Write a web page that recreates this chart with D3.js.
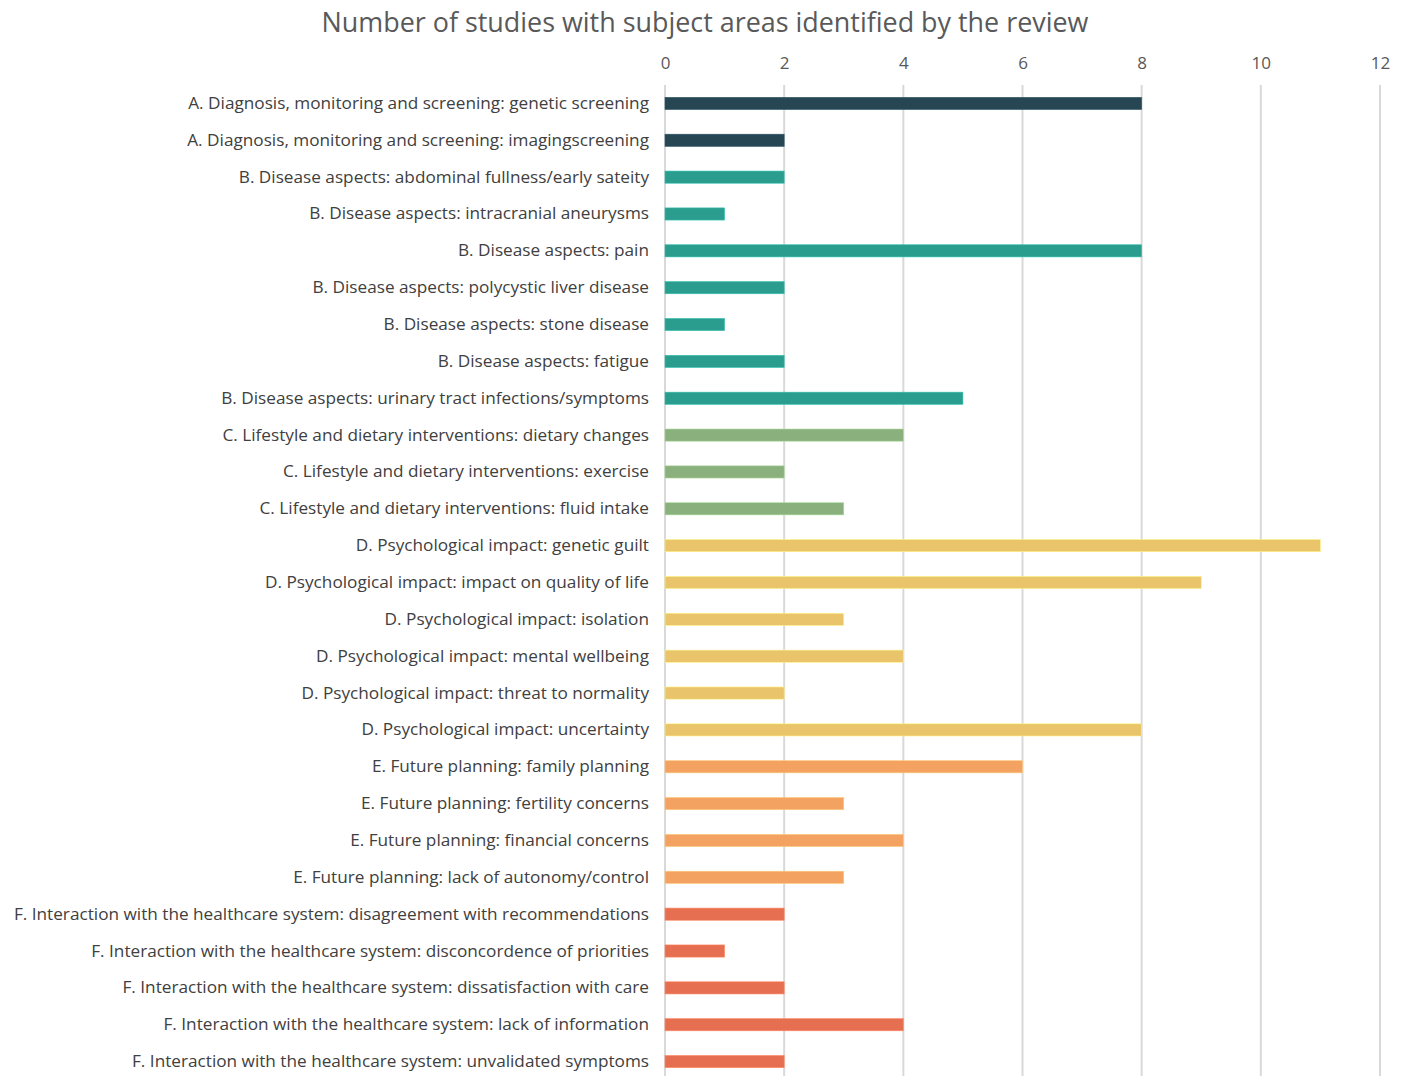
<!DOCTYPE html>
<html lang="en">
<head>
<meta charset="utf-8">
<title>Number of studies with subject areas</title>
<script src="https://d3js.org/d3.v7.min.js"></script>
<style>
  body { margin: 0; background: #fff; font-family: "Open Sans", sans-serif; }
</style>
</head>
<body>
<div id="chart"></div>
<script>
const categories = [
  "A. Diagnosis, monitoring and screening: genetic screening",
  "A. Diagnosis, monitoring and screening: imagingscreening",
  "B. Disease aspects: abdominal fullness/early sateity",
  "B. Disease aspects: intracranial aneurysms",
  "B. Disease aspects: pain",
  "B. Disease aspects: polycystic liver disease",
  "B. Disease aspects: stone disease",
  "B. Disease aspects: fatigue",
  "B. Disease aspects: urinary tract infections/symptoms",
  "C. Lifestyle and dietary interventions: dietary changes",
  "C. Lifestyle and dietary interventions: exercise",
  "C. Lifestyle and dietary interventions: fluid intake",
  "D. Psychological impact: genetic guilt",
  "D. Psychological impact: impact on quality of life",
  "D. Psychological impact: isolation",
  "D. Psychological impact: mental wellbeing",
  "D. Psychological impact: threat to normality",
  "D. Psychological impact: uncertainty",
  "E. Future planning: family planning",
  "E. Future planning: fertility concerns",
  "E. Future planning: financial concerns",
  "E. Future planning: lack of autonomy/control",
  "F. Interaction with the healthcare system: disagreement with recommendations",
  "F. Interaction with the healthcare system: disconcordence of priorities",
  "F. Interaction with the healthcare system: dissatisfaction with care",
  "F. Interaction with the healthcare system: lack of information",
  "F. Interaction with the healthcare system: unvalidated symptoms"
];
const values = [8, 2, 2, 1, 8, 2, 1, 2, 5, 4, 2, 3, 11, 9, 3, 4, 2, 8, 6, 3, 4, 3, 2, 1, 2, 4, 2];
const groups = ["A", "B", "C", "D", "E", "F"];
const groupColors = ["#264653", "#2a9d8f", "#8ab17d", "#e9c46a", "#f4a261", "#e76f51"];
const xTicks = [0, 2, 4, 6, 8, 10, 12];
const title = "Number of studies with subject areas identified by the review";

const width = 1406, height = 1076;
const margin = {top: 85, right: 26, bottom: -4, left: 665};

const data = categories.map((c, i) => ({name: c, value: values[i], group: c[0]}));

const svg = d3.select("#chart").append("svg")
  .attr("width", width)
  .attr("height", height);

const x = d3.scaleLinear().domain([0, 12]).range([margin.left, width - margin.right]);
const y = d3.scaleBand().domain(categories)
  .range([margin.top, height - margin.bottom])
  .paddingInner(0.67)
  .paddingOuter(0.335);
const color = d3.scaleOrdinal().domain(groups).range(groupColors);

svg.append("text")
  .attr("x", 705)
  .attr("y", 32)
  .attr("text-anchor", "middle")
  .attr("font-size", 26.9)
  .attr("fill", "#595959")
  .text(title);

// gridlines
svg.append("g")
  .selectAll("line")
  .data(xTicks)
  .join("line")
  .attr("x1", d => x(d)).attr("x2", d => x(d))
  .attr("y1", margin.top).attr("y2", height)
  .attr("stroke", "#d9d9d9")
  .attr("stroke-width", 2);

// top axis labels
const xAxis = svg.append("g")
  .attr("transform", `translate(0,${margin.top - 16})`)
  .call(d3.axisTop(x).tickValues(xTicks).tickSize(0).tickPadding(0));
xAxis.select(".domain").remove();
xAxis.selectAll("text").attr("font-size", 17).attr("fill", "#595959").attr("font-family", "'Open Sans', sans-serif");

// category labels
const yAxis = svg.append("g")
  .attr("transform", `translate(${margin.left - 16},0)`)
  .call(d3.axisLeft(y).tickSize(0).tickPadding(0));
yAxis.select(".domain").remove();
yAxis.selectAll("text").attr("font-size", 17.2).attr("fill", "#404040").attr("font-family", "'Open Sans', sans-serif");

// bars
svg.append("g")
  .selectAll("rect")
  .data(data)
  .join("rect")
  .attr("x", x(0))
  .attr("y", d => y(d.name))
  .attr("width", d => x(d.value) - x(0))
  .attr("height", y.bandwidth())
  .attr("fill", d => color(d.group))
  .attr("stroke", d => d3.color(color(d.group)).brighter(0.6))
  .attr("stroke-width", 0.6);
</script>
</body>
</html>
